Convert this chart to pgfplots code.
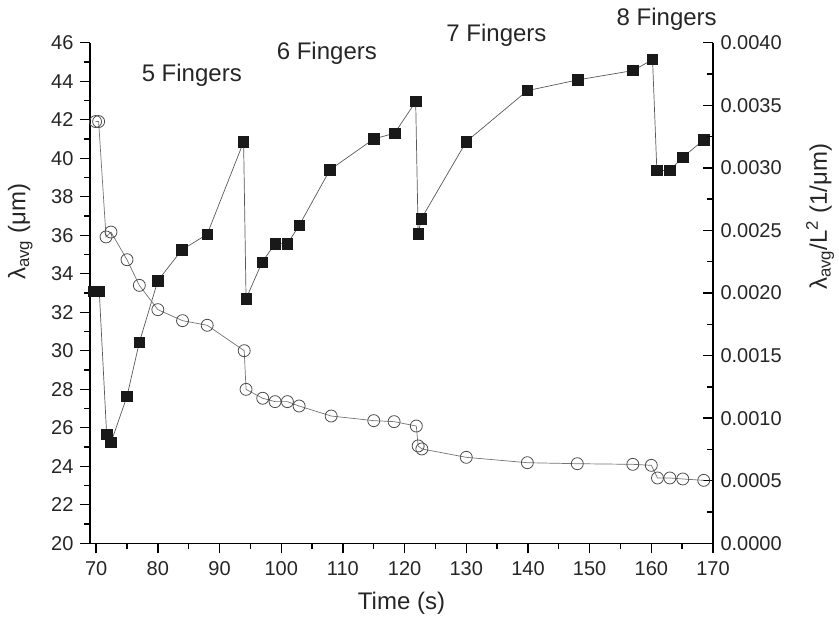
\documentclass[border=0pt]{standalone}
\usepackage{pgfplots}
\pgfplotsset{compat=1.18}
\usepackage{pgfplotstable}
\usepackage{fontspec}
\setmainfont{Liberation Sans}

\pgfplotstableread{
t lam
69.6 33.1
70.5 33.1
71.7 25.65
72.4 25.23
75.0 27.64
77.0 30.44
80.0 33.64
83.9 35.24
88.0 36.05
93.9 40.85
94.3 32.7
96.9 34.6
99.0 35.56
101.0 35.56
102.9 36.5
107.9 39.4
115.0 41.0
118.4 41.3
121.8 42.94
122.2 36.07
122.7 36.85
130.0 40.86
139.9 43.51
148.1 44.07
157.0 44.55
160.2 45.12
160.9 39.36
163.0 39.36
165.1 40.05
168.5 40.95
}\lamdata

\pgfplotstableread{
t ratio
69.9 0.00337
70.4 0.00337
71.6 0.002448
72.4 0.002487
75.0 0.002266
77.0 0.002061
80.0 0.001867
84.0 0.001779
88.0 0.001742
94.0 0.001539
94.3 0.00123
97.0 0.001159
99.0 0.001132
101.0 0.001132
102.9 0.001097
108.1 0.001017
115.0 0.00098
118.3 0.000972
121.9 0.000937
122.2 0.000778
122.8 0.000754
130.0 0.000687
139.9 0.000644
148.0 0.000636
157.0 0.000631
160.0 0.000623
161.0 0.000522
163.0 0.000522
165.1 0.000514
168.5 0.000503
}\ratiodata

\pgfplotsset{
  common/.style={
    scale only axis,
    width=623bp, height=500.6bp,
    xmin=69, xmax=170,
    clip=false,
    axis line style={line width=1.6bp, black},
    every tick/.style={line width=1.4bp, black},
    major tick length=10bp,
    minor tick length=6bp,
    tick label style={font=\fontsize{20bp}{24bp}\selectfont, text=black!85},
    label style={font=\fontsize{24bp}{28bp}\selectfont, text=black!85},
    /pgf/number format/assume math mode=true,
  }
}

\begin{document}
\begin{tikzpicture}
\begin{axis}[common,
  axis y line*=left, axis x line*=bottom,
  ymin=20, ymax=46,
  xtick={70,80,...,170}, minor x tick num=1,
  ytick={20,22,...,46}, minor y tick num=1,
  tick align=outside,
  xticklabel style={yshift=-5bp},
  yticklabel style={xshift=-3bp},
  xlabel={Time (s)},
  ylabel={λ\textsubscript{avg} (μm)},
  xlabel style={at={(axis description cs:0.5,-0.12)}, anchor=center},
  ylabel style={at={(axis description cs:-0.112,0.622)}, anchor=center},
]
\addplot[color=black!65, line width=0.7bp, mark=square*, mark size=5.2bp,
  mark options={fill=black!90, draw=black!90, solid}] table[x=t, y=lam] {\lamdata};
\coordinate (bbsw) at (rel axis cs:0,0);
\coordinate (bbne) at (rel axis cs:1,1);
\node[font=\fontsize{24bp}{28bp}\selectfont, text=black!85] at (axis cs:85.5,44.32) {5 Fingers};
\node[font=\fontsize{24bp}{28bp}\selectfont, text=black!85] at (axis cs:107.4,45.47) {6 Fingers};
\node[font=\fontsize{24bp}{28bp}\selectfont, text=black!85] at (axis cs:134.9,46.4) {7 Fingers};
\node[font=\fontsize{24bp}{28bp}\selectfont, text=black!85] at (axis cs:162.5,47.2) {8 Fingers};
\end{axis}
\begin{axis}[common,
  axis y line*=right, axis x line=none,
  ymin=0, ymax=0.004,
  ytick={0,0.0005,...,0.0040}, minor y tick num=1,
  ytick align=inside,
  scaled y ticks=false,
  yticklabel style={xshift=4bp, /pgf/number format/fixed, /pgf/number format/fixed zerofill, /pgf/number format/precision=4},
  ylabel={λ\textsubscript{avg}/L\textsuperscript{2} (1/μm)},
  ylabel style={at={(axis description cs:1.172,0.652)}, anchor=center, rotate=0},
]
\addplot[color=black!55, line width=0.7bp, mark=o, mark size=6bp,
  mark options={fill=white, draw=black!70, line width=0.8bp, solid}] table[x=t, y=ratio] {\ratiodata};
\end{axis}
\pgfresetboundingbox
\path ([shift={(-90bp,-75.7bp)}]bbsw) rectangle ([shift={(126bp,42.7bp)}]bbne);
\end{tikzpicture}
\end{document}
